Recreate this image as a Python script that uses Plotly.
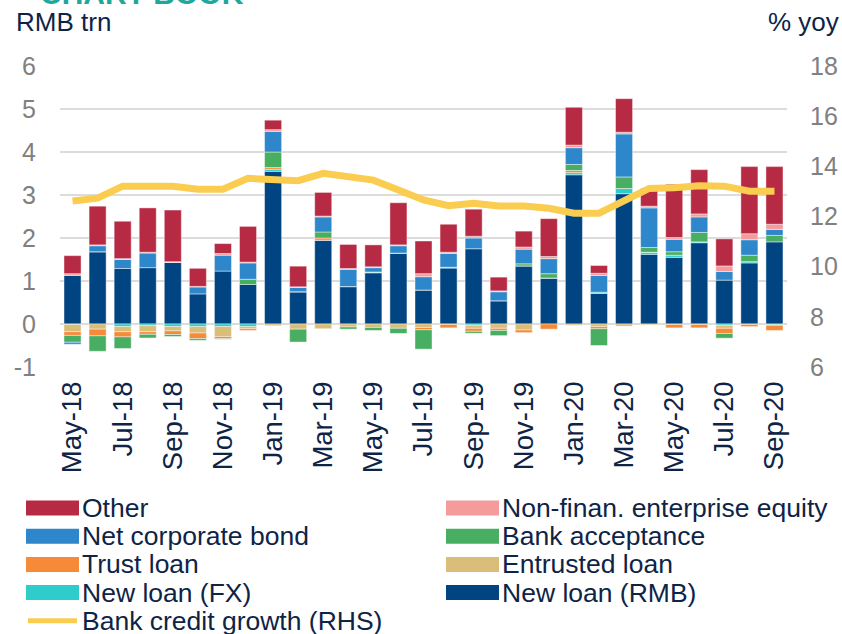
import plotly.graph_objects as go

# ---------------- data ----------------
months = ["May-18", "Jun-18", "Jul-18", "Aug-18", "Sep-18", "Oct-18", "Nov-18", "Dec-18",
          "Jan-19", "Feb-19", "Mar-19", "Apr-19", "May-19", "Jun-19", "Jul-19", "Aug-19",
          "Sep-19", "Oct-19", "Nov-19", "Dec-19", "Jan-20", "Feb-20", "Mar-20", "Apr-20",
          "May-20", "Jun-20", "Jul-20", "Aug-20", "Sep-20"]

new_loan_rmb = [1.13, 1.68, 1.29, 1.31, 1.43, 0.70, 1.23, 0.92, 3.55, 0.75, 1.95, 0.87, 1.19, 1.65,
                0.79, 1.30, 1.75, 0.54, 1.35, 1.07, 3.47, 0.71, 3.03, 1.62, 1.55, 1.89, 1.02, 1.42, 1.91]
new_loan_fx = [-0.01, 0.0, -0.06, -0.04, -0.06, -0.06, -0.06, -0.06, 0.05, 0.0, 0.0, 0.0, 0.02, 0.0,
               0.0, 0.02, -0.03, 0.0, 0.0, 0.0, 0.05, 0.03, 0.12, 0.05, 0.05, 0.02, -0.03, 0.03, -0.02]
entrusted_loan = [-0.17, -0.12, -0.12, -0.14, -0.10, -0.15, -0.23, -0.05, -0.04, -0.12, -0.11, -0.07, -0.08, -0.10,
                  -0.08, -0.01, -0.07, -0.10, -0.14, 0.0, -0.03, -0.06, -0.05, -0.02, -0.01, -0.01, -0.07, -0.01, -0.01]
trust_loan = [-0.085, -0.155, -0.12, -0.06, -0.085, -0.13, -0.05, -0.04, 0.04, 0.0, 0.05, 0.0, 0.0, 0.0,
              -0.055, -0.08, -0.07, -0.05, -0.06, -0.12, 0.05, -0.05, 0.0, 0.0, -0.08, -0.08, -0.12, -0.05, -0.12]
bank_acceptance = [-0.16, -0.36, -0.27, -0.085, -0.045, -0.04, -0.015, 0.12, 0.36, -0.30, 0.14, -0.05, -0.07, -0.12,
                   -0.45, 0.0, -0.045, -0.12, 0.05, 0.10, 0.14, -0.39, 0.27, 0.11, 0.08, 0.22, -0.11, 0.15, 0.15]
net_corporate_bond = [-0.045, 0.14, 0.21, 0.34, 0.0, 0.16, 0.37, 0.38, 0.48, 0.10, 0.35, 0.40, 0.10, 0.17,
                      0.31, 0.32, 0.25, 0.21, 0.34, 0.35, 0.39, 0.39, 1.00, 0.92, 0.29, 0.36, 0.20, 0.36, 0.14]
nonfin_equity = [0.04, 0.02, 0.02, 0.02, 0.02, 0.015, 0.04, 0.02, 0.04, 0.015, 0.02, 0.02, 0.02, 0.02,
                 0.07, 0.03, 0.04, 0.02, 0.05, 0.05, 0.06, 0.05, 0.04, 0.04, 0.04, 0.07, 0.13, 0.14, 0.12]
other = [0.42, 0.90, 0.87, 1.03, 1.20, 0.42, 0.23, 0.83, 0.22, 0.48, 0.55, 0.56, 0.51, 0.98,
         0.76, 0.65, 0.63, 0.32, 0.37, 0.88, 0.88, 0.18, 0.78, 0.41, 1.24, 1.03, 0.63, 1.56, 1.34]
credit_growth = [12.62, 12.73, 13.21, 13.21, 13.21, 13.09, 13.09, 13.52, 13.45, 13.43, 13.72, 13.56, 13.45, 13.06,
                 12.66, 12.43, 12.53, 12.42, 12.42, 12.33, 12.13, 12.13, 12.66, 13.12, 13.15, 13.23, 13.21, 13.01, 13.01]

left_ticks = [-1, 0, 1, 2, 3, 4, 5, 6]
left_tick_labels = ["-1", "0", "1", "2", "3", "4", "5", "6"]
right_ticks = [6, 8, 10, 12, 14, 16, 18]

# ---------------- styling ----------------
NAVY = "#0E2446"
GREY = "#808080"
FONT = "Liberation Sans, Arial, sans-serif"
W, H = 842, 634
ML, MR, MT, MB = 60, 55, 66, 267
PW, PH = W - ML - MR, H - MT - MB

series = [
    ("New loan (RMB)", new_loan_rmb, "#004481"),
    ("New loan (FX)", new_loan_fx, "#2ECDCB"),
    ("Entrusted loan", entrusted_loan, "#D9BD78"),
    ("Trust loan", trust_loan, "#F78A38"),
    ("Bank acceptance", bank_acceptance, "#48AE62"),
    ("Net corporate bond", net_corporate_bond, "#2D87CA"),
    ("Non-finan. enterprise equity", nonfin_equity, "#F59B9C"),
    ("Other", other, "#B72A43"),
]
line_color = "#FACD50"

fig = go.Figure()
for name, vals, col in series:
    fig.add_trace(go.Bar(
        x=months, y=vals, name=name, marker_color=col,
        marker_line=dict(color="rgba(255,255,255,0.55)", width=0.8),
        showlegend=False,
    ))
fig.add_trace(go.Scatter(
    x=months, y=credit_growth, name="Bank credit growth (RHS)", yaxis="y2",
    mode="lines", line=dict(color=line_color, width=7, shape="linear"),
    showlegend=False,
))

fig.update_layout(
    width=W, height=H,
    margin=dict(l=ML, r=MR, t=MT, b=MB, pad=0, autoexpand=False),
    paper_bgcolor="white", plot_bgcolor="white",
    barmode="relative", bargap=0.32,
    font=dict(family=FONT, color=NAVY),
    xaxis=dict(
        type="category", tickmode="array", tickvals=months[::2], ticktext=months[::2],
        tickangle=-90, tickfont=dict(size=27.5, color=NAVY, family=FONT),
        showgrid=False, showline=False, ticks="", ticklabelstandoff=8, automargin=False,
    ),
    xaxis2=dict(
        overlaying="x", anchor="free", position=1 / 7, type="linear",
        range=[-0.5, len(months) - 0.5], tick0=-0.5, dtick=2,
        ticks="outside", ticklen=7, tickwidth=1.5, tickcolor="#D0D0D0",
        showticklabels=False, showgrid=False, showline=True, linecolor="#D0D0D0", linewidth=1.5,
        zeroline=False, automargin=False,
    ),
    yaxis=dict(
        range=[-1, 6], tickmode="array", tickvals=left_ticks, ticktext=left_tick_labels,
        showgrid=True, gridcolor="#DCDCDC", gridwidth=1.5,
        zeroline=False, tickfont=dict(size=25, color=GREY, family=FONT), ticklabelstandoff=23,
        showline=False, automargin=False,
    ),
    yaxis2=dict(
        range=[6, 18], tickvals=right_ticks, overlaying="y", side="right", showgrid=False,
        zeroline=False, tickfont=dict(size=25, color=GREY, family=FONT), ticklabelstandoff=22,
        showline=False, automargin=False,
    ),
)

# helpers: convert page pixel positions to paper coordinates
def px_x(px):
    return (px - ML) / PW

def px_y(py):
    return (MT + PH - py) / PH

annotations = [
    dict(text="RMB trn", x=px_x(14), y=px_y(22), xref="paper", yref="paper", xanchor="left",
         yanchor="middle", showarrow=False, font=dict(size=26, color=NAVY, family=FONT)),
    dict(text="% yoy", x=px_x(841), y=px_y(22), xref="paper", yref="paper", xanchor="right",
         yanchor="middle", showarrow=False, font=dict(size=26, color=NAVY, family=FONT)),
    dict(text="<b>CHART BOOK</b>", x=px_x(38), y=px_y(12), xref="paper", yref="paper", xanchor="left",
         yanchor="bottom", showarrow=False, font=dict(size=30, color="#1EA79D", family=FONT)),
]
shapes = []

# manual two-column legend (row-major, same order as the reference)
legend_items = [
    ("Other", "#B72A43", "bar"), ("Non-finan. enterprise equity", "#F59B9C", "bar"),
    ("Net corporate bond", "#2D87CA", "bar"), ("Bank acceptance", "#48AE62", "bar"),
    ("Trust loan", "#F78A38", "bar"), ("Entrusted loan", "#D9BD78", "bar"),
    ("New loan (FX)", "#2ECDCB", "bar"), ("New loan (RMB)", "#004481", "bar"),
    ("Bank credit growth (RHS)", line_color, "line"),
]
col_x = [26, 446]
row_y0, row_dy = 508, 28.2
for i, (label, col, kind) in enumerate(legend_items):
    r, c = divmod(i, 2)
    cy = row_y0 + r * row_dy
    x0 = col_x[c]
    if kind == "bar":
        shapes.append(dict(type="rect", xref="paper", yref="paper",
                           x0=px_x(x0), x1=px_x(x0 + 53), y0=px_y(cy + 7.5), y1=px_y(cy - 7.5),
                           fillcolor=col, line=dict(width=0)))
    else:
        shapes.append(dict(type="line", xref="paper", yref="paper",
                           x0=px_x(x0 + 2), x1=px_x(x0 + 51), y0=px_y(cy), y1=px_y(cy),
                           line=dict(color=col, width=5)))
    annotations.append(dict(text=label, x=px_x(x0 + 54), y=px_y(cy), xref="paper", yref="paper",
                            xanchor="left", yanchor="middle", showarrow=False,
                            font=dict(size=26.5, color=NAVY, family=FONT)))

fig.update_layout(annotations=annotations, shapes=shapes)
fig.write_html(
    "out.html",
    config={"displayModeBar": False},
    post_script="document.body.style.margin='0';document.body.style.overflow='hidden';",
)
